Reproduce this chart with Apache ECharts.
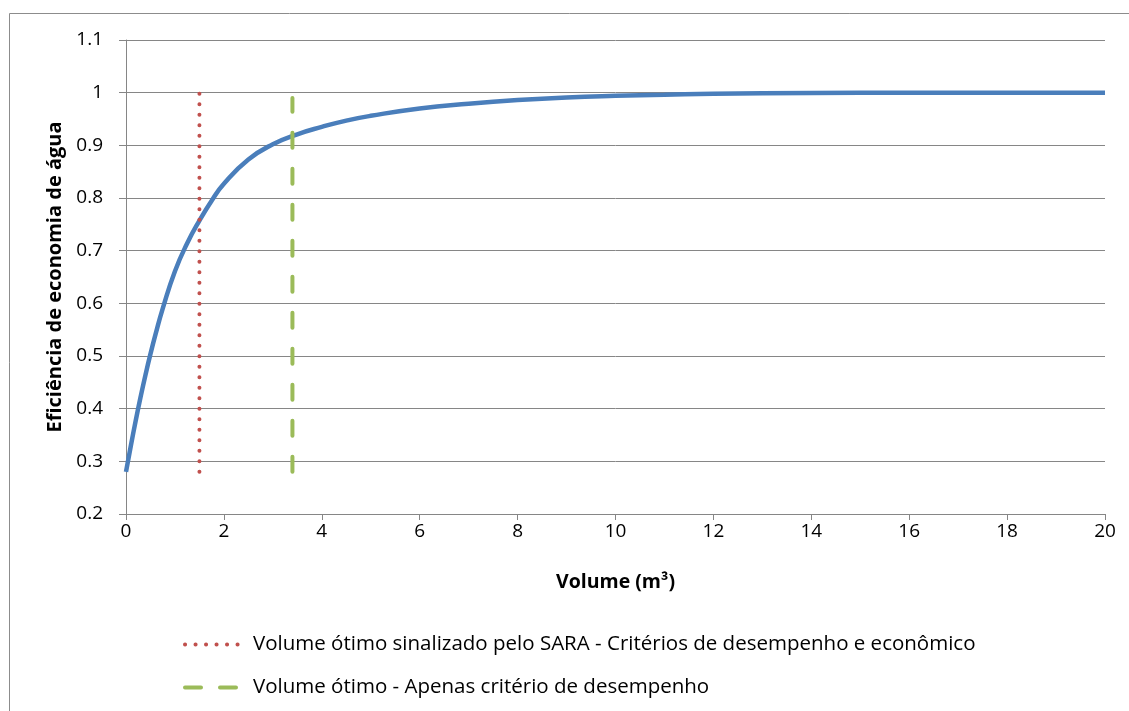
<!DOCTYPE html>
<html>
<head>
<meta charset="utf-8">
<script src="https://cdn.jsdelivr.net/npm/echarts@6/dist/echarts.min.js"></script>
<style>
html,body{margin:0;padding:0;background:#fff;}
#c{width:1129px;height:711px;}
</style>
</head>
<body>
<div id="c"></div>
<script>
// Curve: efficiency vs volume
const volumes = [0, 0.1, 0.2, 0.3, 0.4, 0.5, 0.6, 0.75, 1, 1.25, 1.5, 1.75, 2, 2.5, 3, 3.5, 4, 4.5, 5, 6, 7, 8, 9, 10, 11, 12, 14, 16, 18, 20];
const efficiency = [0.28, 0.33, 0.378, 0.423, 0.465, 0.504, 0.540, 0.590, 0.661, 0.714, 0.757, 0.795, 0.827, 0.873, 0.902, 0.921, 0.935, 0.947, 0.956, 0.970, 0.979, 0.986, 0.991, 0.994, 0.996, 0.998, 0.9995, 1.0, 1.0, 1.0];

// Vertical marker lines
const sara_x = [1.5, 1.5];
const sara_y = [0.28, 1.0];
const perf_x = [3.4, 3.4];
const perf_y = [0.28, 0.99];

const seriesNames = [
  'Volume ótimo sinalizado pelo SARA - Critérios de desempenho e econômico',
  'Volume ótimo - Apenas critério de desempenho'
];
const xTitle = 'Volume (m³)';
const yTitle = 'Eficiência de economia de água';

const zip = (a, b) => a.map((v, i) => [v, b[i]]);
const FONT = '"Open Sans", Lato, sans-serif';
const FS = 19;
const GRID = '#868686';

const chart = echarts.init(document.getElementById('c'), null, {renderer: 'canvas'});
chart.setOption({
  animation: false,
  backgroundColor: '#fff',
  textStyle: {fontFamily: FONT},
  graphic: [{
    type: 'rect', silent: true,
    shape: {x: 9.5, y: 13.5, width: 1300, height: 900},
    style: {fill: 'none', stroke: '#8c8c8c', lineWidth: 1}
  }],
  grid: {left: 126, right: 24, top: 40, bottom: 197, containLabel: false},
  xAxis: {
    type: 'value', min: 0, max: 20, interval: 2,
    name: xTitle, nameLocation: 'middle', nameGap: 58,
    nameTextStyle: {fontFamily: FONT, fontWeight: 'bold', fontSize: 19.5, color: '#000'},
    axisLine: {show: true, lineStyle: {color: GRID, width: 1}},
    axisTick: {show: true, inside: false, length: 6, lineStyle: {color: GRID}},
    axisLabel: {fontFamily: FONT, fontSize: FS, color: '#000', margin: 8},
    splitLine: {show: false}
  },
  yAxis: {
    type: 'value', min: 0.2, max: 1.1, interval: 0.1,
    name: yTitle, nameLocation: 'middle', nameGap: 61, nameRotate: 90,
    nameTextStyle: {fontFamily: FONT, fontWeight: 'bold', fontSize: 20, color: '#000'},
    axisLine: {show: true, lineStyle: {color: GRID, width: 1}},
    axisTick: {show: true, inside: false, length: 7, lineStyle: {color: GRID}},
    axisLabel: {fontFamily: FONT, fontSize: FS, color: '#000', margin: 23,
      formatter: v => String(+v.toFixed(2))},
    splitLine: {show: true, lineStyle: {color: GRID, width: 1}}
  },
  legend: {
    orient: 'vertical', left: 183, top: 633, itemGap: 20, padding: 0,
    itemWidth: 57, itemHeight: 14,
    textStyle: {fontFamily: FONT, fontSize: 20.5, lineHeight: 23, color: '#000', padding: [0, 0, 0, 6]},
    data: [
      {name: seriesNames[0], itemStyle: {opacity: 0}, lineStyle: {type: [0.1, 10.4], cap: 'round', width: 4}},
      {name: seriesNames[1], itemStyle: {opacity: 0}, lineStyle: {type: [16, 19], cap: 'round', width: 4}}
    ]
  },
  series: [
    {
      name: 'Eficiência', type: 'line', smooth: 0.5, showSymbol: false, symbol: 'none',
      data: zip(volumes, efficiency),
      lineStyle: {color: '#4A7EBB', width: 4.5},
      itemStyle: {color: '#4A7EBB'}, z: 2
    },
    {
      name: seriesNames[0], type: 'line', symbol: 'none', showSymbol: false,
      data: zip(sara_x, sara_y),
      lineStyle: {color: '#C0504D', width: 4, type: [0.1, 10.4], cap: 'round'},
      itemStyle: {color: '#C0504D'}, z: 3
    },
    {
      name: seriesNames[1], type: 'line', symbol: 'none', showSymbol: false,
      data: zip(perf_x, perf_y),
      lineStyle: {color: '#9BBB59', width: 4, type: [15, 21], cap: 'round'},
      itemStyle: {color: '#9BBB59'}, z: 3
    }
  ]
});
</script>
</body>
</html>
